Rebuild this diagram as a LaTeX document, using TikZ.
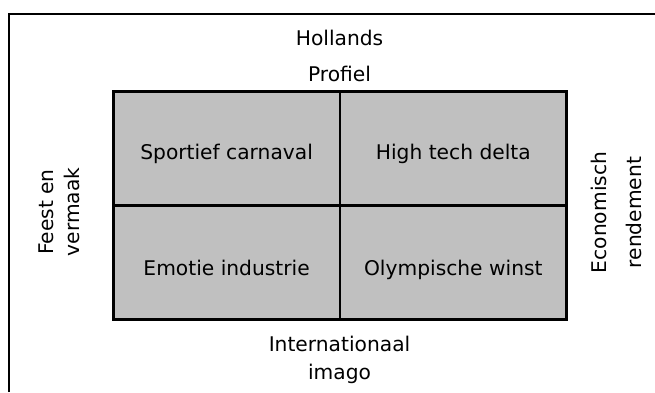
\documentclass[tikz,border=0pt]{standalone}
\usepackage{fontspec}
\setmainfont{DejaVu Sans}
\definecolor{cellgray}{HTML}{C0C0C0}
\begin{document}
\begin{tikzpicture}[x=1bp,y=-1bp,
  lbl/.style={inner sep=0pt, anchor=base, font=\fontsize{20.3}{24}\selectfont},
  vlbl/.style={lbl, rotate=90}]
\useasboundingbox (0,0) rectangle (655,392);
\fill[white] (0,0) rectangle (655,392);
% outer frame (only top and left edges visible)
\coordinate (fbl) at (9.3,392);
\coordinate (ftl) at (9.3,14.3);
\coordinate (ftr) at (655,14.3);
\draw[line width=2bp] (fbl) -- (ftl) -- (ftr);
% grid
\coordinate (gtl) at (113.3,91);
\coordinate (gbr) at (566.5,319);
\coordinate (gtm) at (340,91);
\coordinate (gbm) at (340,319);
\coordinate (gml) at (113.3,205.3);
\coordinate (gmr) at (566.5,205.3);
\fill[cellgray] (gtl) rectangle (gbr);
\draw[line width=2.6bp] (gtm) -- (gbm);
\draw[line width=2.6bp] (gml) -- (gmr);
\draw[line width=3bp] (gtl) rectangle (gbr);
% cell texts
\node[lbl] (c11) at (226.6,159) {Sportief carnaval};
\node[lbl] (c12) at (453.3,159) {High tech delta};
\node[lbl] (c21) at (226.6,275) {Emotie industrie};
\node[lbl] (c22) at (453.3,275) {Olympische winst};
% axis labels
\node[lbl] (t1) at (339.5,45) {Hollands};
\node[lbl] (t2) at (339.5,81.5) {Profiel};
\node[lbl] (b1) at (339.5,351.7) {Internationaal};
\node[lbl] (b2) at (339.5,379) {imago};
\node[vlbl] (l1) at (53,212) {Feest en};
\node[vlbl] (l2) at (79.3,212) {vermaak};
\node[vlbl] (r1) at (606,212.5) {Economisch};
\node[vlbl] (r2) at (641.7,212.5) {rendement};
\end{tikzpicture}
\end{document}
